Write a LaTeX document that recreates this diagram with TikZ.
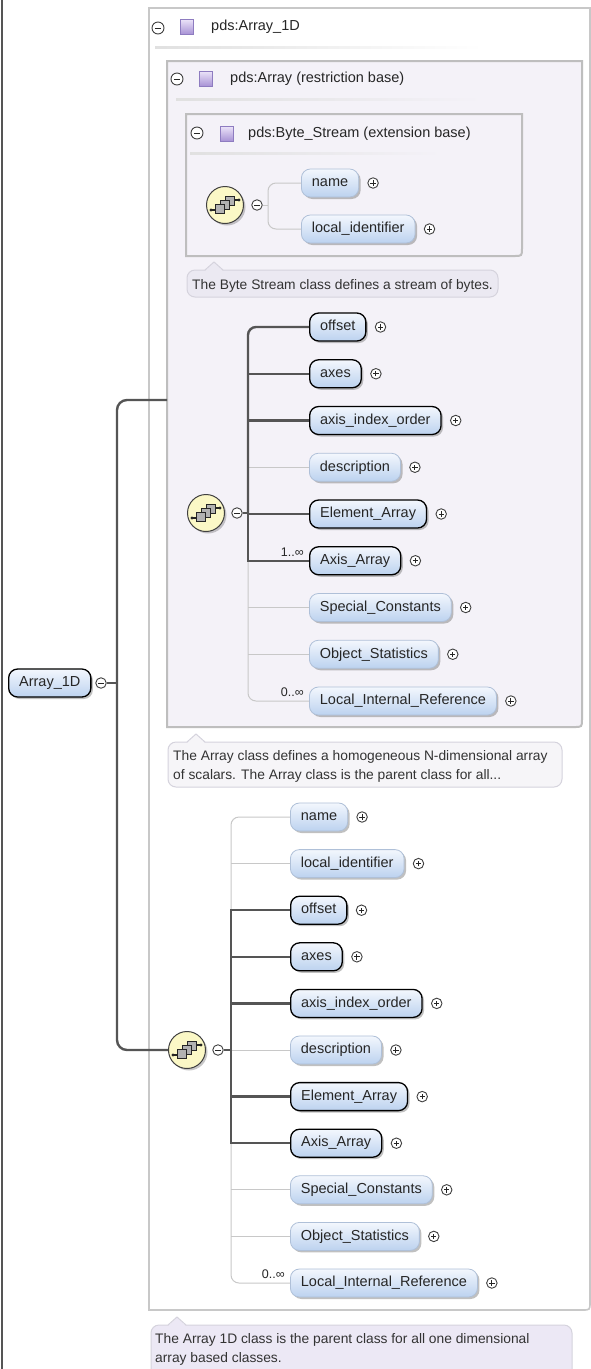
\documentclass[tikz,border=0pt]{standalone}
\usepackage{fontspec}
\setmainfont{Liberation Sans}
\usetikzlibrary{shadows,calc}
\definecolor{lineDark}{HTML}{555555}
\definecolor{lineLight}{HTML}{C8C8C8}
\definecolor{boxTop}{HTML}{F3F7FD}
\definecolor{boxBot}{HTML}{BCD2EF}
\definecolor{optBorder}{HTML}{AFC0D8}
\definecolor{panelFill}{HTML}{F4F2F8}
\definecolor{panelBorder}{HTML}{BEBEBE}
\definecolor{outerBorder}{HTML}{C8C8C8}
\definecolor{bubbleFillA}{HTML}{EBE9F2}
\definecolor{bubbleFillB}{HTML}{F6F5F8}
\definecolor{bubbleFillC}{HTML}{ECE8F5}
\definecolor{bubbleBorder}{HTML}{D5D3DD}
\definecolor{compFill}{HTML}{FBF8C6}
\definecolor{sqTop}{HTML}{EAE2F8}
\definecolor{sqBot}{HTML}{A690D4}
\definecolor{sqBorder}{HTML}{8E7CC0}
\tikzset{
  elem/.style={rectangle, rounded corners=9pt, minimum height=28pt, inner xsep=10.5pt, inner ysep=0pt,
    text height=10.5pt, text depth=3pt, anchor=west, top color=boxTop, bottom color=boxBot,
    draw=black, line width=1.3pt, text=black!85, font=\fontsize{14.5}{16}\selectfont,
    drop shadow={shadow xshift=2pt, shadow yshift=-2pt, opacity=0.35, fill=black!70}},
  optelem/.style={elem, draw=optBorder, line width=0.8pt},
  req/.style={draw=lineDark, line width=2.4pt},
  opt/.style={draw=lineLight, line width=1pt},
  minuscirc/.style={circle, draw=black!75, fill=white, line width=0.9pt, minimum size=10.5pt, inner sep=0pt,
    path picture={\draw[line width=1pt, black!85] ([xshift=-2.7pt]path picture bounding box.center) -- ([xshift=2.7pt]path picture bounding box.center);}},
  hminus/.style={circle, draw=black!75, fill=white, line width=0.9pt, minimum size=12pt, inner sep=0pt,
    path picture={\draw[line width=1pt, black!85] ([xshift=-3.2pt]path picture bounding box.center) -- ([xshift=3.2pt]path picture bounding box.center);}},
  pluscirc/.style={circle, draw=black!75, fill=white, line width=0.9pt, minimum size=10.5pt, inner sep=0pt,
    path picture={\draw[line width=1pt, black!85] ([xshift=-2.7pt]path picture bounding box.center) -- ([xshift=2.7pt]path picture bounding box.center)
      ([yshift=-2.7pt]path picture bounding box.center) -- ([yshift=2.7pt]path picture bounding box.center);}},
  comp/.style={circle, minimum size=37pt, inner sep=0pt, fill=compFill, draw=black!75, line width=1pt,
    drop shadow={shadow xshift=2pt, shadow yshift=-2pt, opacity=0.3, fill=black!70}},
  hsq/.style={rectangle, minimum width=13pt, minimum height=15pt, inner sep=0pt, top color=sqTop, bottom color=sqBot, draw=sqBorder, line width=0.6pt},
  htext/.style={anchor=west, inner sep=0pt, font=\fontsize{14.5}{16}\selectfont, text=black!85},
  card/.style={anchor=east, inner sep=0pt, font=\fontsize{12.5}{14}\selectfont, text=black!85},
  doc/.style={anchor=north west, inner sep=0pt, align=left, font=\fontsize{13.8}{19.5}\selectfont, text=black!80},
  panel/.style={draw=panelBorder, line width=2pt, fill=panelFill},
  bubble/.style={draw=bubbleBorder, line width=1pt, rounded corners=8pt},
}
\newcommand\seqicon[1]{%
  \begin{scope}[shift={(#1.center)}, x=1pt, y=1pt]
    \draw[line width=1.1pt, black!85] (-14,-5) -- (-7,-5);
    \fill[black!85] (-14,-5) circle (1.6);
    \draw[line width=1.1pt, black!85] (7,5) -- (14,5);
    \fill[black!85] (14,5) circle (1.6);
    \foreach \dx/\dy in {5/4, 0/0, -5/-4}
      \draw[fill=black!30, draw=black!85, line width=0.9pt] (\dx-4.2,\dy-4.2) rectangle (\dx+4.2,\dy+4.2);
  \end{scope}}
\newcommand\elemrow[5]{%
  \node[#2] (#1) at (#3,#4) {#5};
  \node[pluscirc] (#1p) at ([xshift=14pt]#1.east) {};}
\begin{document}
\begin{tikzpicture}[x=1pt, y=-1pt]
\useasboundingbox (0,0) rectangle (591,1369);
\fill[white] (0,0) rectangle (591,1369);
% window edge
\draw[lineDark, line width=1.5pt] (2,0) -- (2,1369);

% outer panel pds:Array_1D
\draw[draw=outerBorder, line width=1.6pt, fill=white] (149,8) -- (590,8) -- (590,1302) .. controls (590,1310) .. (582,1310) -- (149,1310) -- cycle;
\node[hminus] (h0m) at (158,28) {};
\node[hsq] (h0s) at (187,27) {};
\node[htext] (h0t) at (211,27) {pds:Array\_1D};
\shade[left color=black!12, middle color=black!38, right color=white] (155,46) rectangle (483,48);

% panel pds:Array
\draw[panel] (167,61) -- (582,61) -- (582,719) .. controls (582,727) .. (574,727) -- (167,727) -- cycle;
\node[hminus] (h1m) at (177,79) {};
\node[hsq] (h1s) at (206,79) {};
\node[htext] (h1t) at (230,79) {pds:Array (restriction base)};
\shade[left color=black!12, middle color=black!38, right color=panelFill] (176,98) rectangle (483,100);

% panel pds:Byte_Stream
\draw[panel] (186,114) -- (522,114) -- (522,248) .. controls (522,256) .. (514,256) -- (186,256) -- cycle;
\node[hminus] (h2m) at (197,133) {};
\node[hsq] (h2s) at (227,134) {};
\node[htext] (h2t) at (248,134) {pds:Byte\_Stream (extension base)};
\shade[left color=black!12, middle color=black!38, right color=panelFill] (190,152) rectangle (442,154);

% bubbles
\draw[bubble, fill=bubbleFillA] (187,270) rectangle (498,297);
\fill[bubbleFillA] (205,271.2) -- (214,262) -- (223,271.2) -- cycle;
\draw[bubbleBorder, line width=1pt] (205,270) -- (214,262) -- (223,270);
\node[doc, anchor=base west] (d0) at (192,289) {The Byte Stream class defines a stream of bytes.};

\draw[bubble, fill=bubbleFillB] (168,742) rectangle (562,787);
\fill[bubbleFillB] (187,743.2) -- (196,734) -- (205,743.2) -- cycle;
\draw[bubbleBorder, line width=1pt] (187,742) -- (196,734) -- (205,742);
\node[doc] (d1) at (173,750) {The Array class defines a homogeneous N-dimensional array\\of scalars. The Array class is the parent class for all...};

\draw[bubble, fill=bubbleFillC] (151,1325) rectangle (572,1380);
\fill[bubbleFillC] (168,1326.2) -- (177,1317) -- (186,1326.2) -- cycle;
\draw[bubbleBorder, line width=1pt] (168,1325) -- (177,1317) -- (186,1325);
\node[doc] (d2) at (155,1333) {The Array 1D class is the parent class for all one dimensional\\array based classes.};

% ---- Byte_Stream sequence
\node[comp] (c0) at (225,205) {};
\seqicon{c0}
\node[minuscirc] (m0) at (257,205) {};
\coordinate (s0) at (268,205);
\elemrow{b1}{optelem}{301}{183}{name}
\elemrow{b2}{optelem}{301}{229}{local\_identifier}
\draw[opt] (m0.east) -- (s0);
\draw[opt, rounded corners=8pt] (b1.west) -| (s0);
\draw[opt, rounded corners=8pt] (b2.west) -| (s0);

% ---- Array sequence
\node[comp] (c1) at (206,513) {};
\seqicon{c1}
\node[minuscirc] (m1) at (237,513) {};
\coordinate (s1) at (248,513);
\elemrow{t1a}{elem}{309}{327}{offset}
\elemrow{t1b}{elem}{309}{373.75}{axes}
\elemrow{t1c}{elem}{309}{420.5}{axis\_index\_order}
\elemrow{t1d}{optelem}{309}{467.25}{description}
\elemrow{t1e}{elem}{309}{514}{Element\_Array}
\elemrow{t1f}{elem}{309}{560.75}{Axis\_Array}
\elemrow{t1g}{optelem}{309}{607.5}{Special\_Constants}
\elemrow{t1h}{optelem}{309}{654.25}{Object\_Statistics}
\elemrow{t1i}{optelem}{309}{701}{Local\_Internal\_Reference}
\node[card] (k1) at ([xshift=-5pt, yshift=9pt]t1f.west) {1..∞};
\node[card] (k2) at ([xshift=-5pt, yshift=9pt]t1i.west) {0..∞};
\draw[opt] (t1d.west) -- (t1d.west -| s1);
\draw[opt] (t1g.west) -- (t1g.west -| s1);
\draw[opt] (t1h.west) -- (t1h.west -| s1);
\draw[opt, rounded corners=8pt] (t1i.west) -| (s1);
\draw[req] (m1.east) -- (s1);
\draw[req, rounded corners=8pt] (t1a.west) -| (s1);
\draw[req] (t1b.west) -- (t1b.west -| s1);
\draw[req] (t1c.west) -- (t1c.west -| s1);
\draw[req] (t1e.west) -- (t1e.west -| s1);
\draw[req] (t1f.west) -| (s1);

% ---- Array_1D own sequence
\node[comp] (c2) at (187,1050) {};
\seqicon{c2}
\node[minuscirc] (m2) at (218,1050) {};
\coordinate (s2) at (231,1050);
\elemrow{t2a}{optelem}{290}{817}{name}
\elemrow{t2b}{optelem}{290}{863.6}{local\_identifier}
\elemrow{t2c}{elem}{290}{910.2}{offset}
\elemrow{t2d}{elem}{290}{956.8}{axes}
\elemrow{t2e}{elem}{290}{1003.4}{axis\_index\_order}
\elemrow{t2f}{optelem}{290}{1050}{description}
\elemrow{t2g}{elem}{290}{1096.6}{Element\_Array}
\elemrow{t2h}{elem}{290}{1143.2}{Axis\_Array}
\elemrow{t2i}{optelem}{290}{1189.8}{Special\_Constants}
\elemrow{t2j}{optelem}{290}{1236.4}{Object\_Statistics}
\elemrow{t2k}{optelem}{290}{1283}{Local\_Internal\_Reference}
\node[card] (k3) at ([xshift=-5pt, yshift=9pt]t2k.west) {0..∞};
\draw[opt, rounded corners=8pt] (t2a.west) -| (s2);
\draw[opt] (t2b.west) -- (t2b.west -| s2);
\draw[opt] (t2f.west) -- (s2);
\draw[opt] (t2i.west) -- (t2i.west -| s2);
\draw[opt] (t2j.west) -- (t2j.west -| s2);
\draw[opt, rounded corners=8pt] (t2k.west) -| (s2);
\draw[req] (m2.east) -- (s2);
\draw[req] (t2c.west) -| (s2);
\draw[req] (t2d.west) -- (t2d.west -| s2);
\draw[req] (t2e.west) -- (t2e.west -| s2);
\draw[req] (t2g.west) -- (t2g.west -| s2);
\draw[req] (t2h.west) -| (s2);

% ---- root
\node[elem] (root) at (8,683) {Array\_1D};
\node[minuscirc] (rm) at (101,683) {};
\coordinate (rs) at (117,683);
\coordinate (rt) at (167,400);
\draw[req, rounded corners=10pt] (c2.west) -| (rs) |- (rt);
\draw[req] (rm.east) -- (rs);
\end{tikzpicture}
\end{document}
